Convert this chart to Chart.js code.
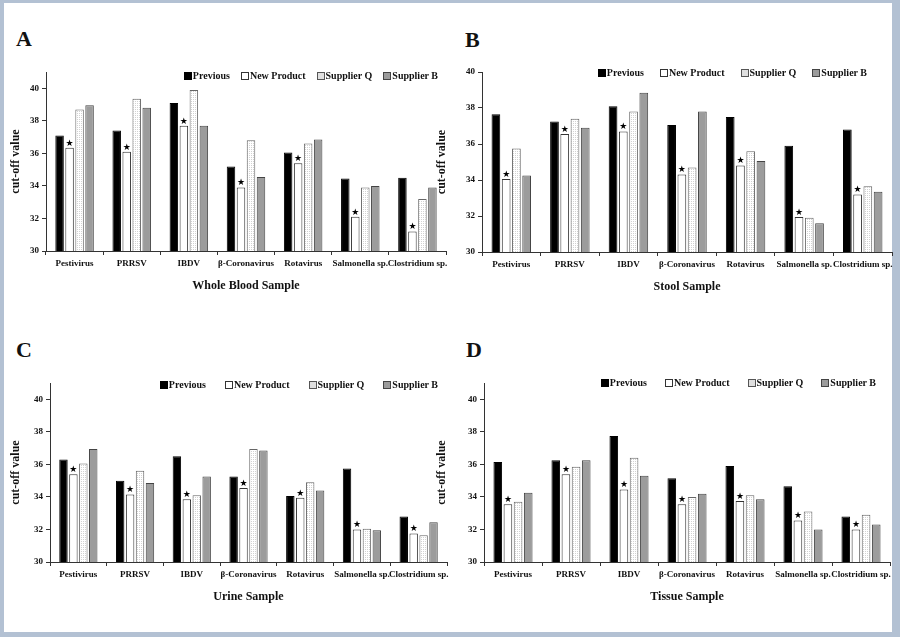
<!DOCTYPE html>
<html>
<head>
<meta charset="utf-8">
<script src="https://cdn.jsdelivr.net/npm/chart.js@4.4.0/dist/chart.umd.min.js"></script>
<style>
  html, body { margin: 0; padding: 0; }
  body {
    width: 900px; height: 637px; position: relative; overflow: hidden;
    background: #b3c1d3;
    font-family: 'Liberation Serif', 'Times New Roman', serif;
  }
  #sheet { position: absolute; left: 4px; top: 3px; width: 888px; height: 629px; background: #fff; }
  canvas { position: absolute; }
  .letter { position: absolute; font-weight: bold; font-size: 22px; line-height: 22px; color: #111; }
  .legend {
    position: absolute; display: flex; font-weight: bold; font-size: 10px;
    line-height: 12px; color: #111; white-space: nowrap;
  }
  .legend .item { display: flex; align-items: center; }
  .legend i { display: inline-block; width: 6px; height: 6px; margin-right: 1px; border: 1px solid #333; }
</style>
</head>
<body>
<div id="sheet"></div>
<script>
const categories = ['Pestivirus', 'PRRSV', 'IBDV', 'β-Coronavirus', 'Rotavirus', 'Salmonella sp.', 'Clostridium sp.'];
const seriesNames = ['Previous', 'New Product', 'Supplier Q', 'Supplier B'];
const yTicks = [30, 32, 34, 36, 38, 40];

// A - whole blood
const bloodPrevious = [37.1, 37.4, 39.1, 35.2, 36.05, 34.45, 34.5];
const bloodNew      = [36.35, 36.1, 37.7, 33.9, 35.4, 32.1, 31.2];
const bloodQ        = [38.7, 39.35, 39.9, 36.8, 36.6, 33.9, 33.2];
const bloodB        = [38.95, 38.8, 37.7, 34.55, 36.85, 34.0, 33.9];

// B - stool
const stoolPrevious = [37.65, 37.25, 38.1, 37.05, 37.5, 35.9, 36.8];
const stoolNew      = [34.05, 36.55, 36.7, 34.3, 34.8, 31.95, 33.2];
const stoolQ        = [35.75, 37.4, 37.8, 34.7, 35.6, 31.9, 33.65];
const stoolB        = [34.25, 36.9, 38.85, 37.8, 35.05, 31.6, 33.35];

// C - urine
const urinePrevious = [36.3, 35.0, 36.5, 35.25, 34.05, 35.75, 32.8];
const urineNew      = [35.4, 34.15, 33.85, 34.55, 33.95, 32.0, 31.75];
const urineQ        = [36.05, 35.6, 34.1, 36.95, 34.9, 32.05, 31.65];
const urineB        = [36.95, 34.85, 35.25, 36.85, 34.4, 31.95, 32.45];

// D - tissue
const tissuePrevious = [36.15, 36.25, 37.75, 35.15, 35.9, 34.65, 32.8];
const tissueNew      = [33.55, 35.4, 34.45, 33.55, 33.75, 32.55, 32.0];
const tissueQ        = [33.7, 35.85, 36.4, 34.0, 34.1, 33.1, 32.9];
const tissueB        = [34.25, 36.25, 35.3, 34.2, 33.85, 32.0, 32.3];

Chart.defaults.font.family = "'Liberation Serif', 'Times New Roman', serif";
Chart.defaults.font.weight = 'bold';
Chart.defaults.color = '#111';

// dotted fill for Supplier Q
const pc = document.createElement('canvas');
pc.width = 2; pc.height = 2;
const pg = pc.getContext('2d');
pg.fillStyle = '#fff'; pg.fillRect(0, 0, 2, 2);
pg.fillStyle = '#d2d2d2'; pg.fillRect(1, 1, 1, 1);
const dots = pg.createPattern(pc, 'repeat');

const fills = ['#000', '#fff', dots, '#9c9c9c'];
const borders = ['#000', '#333', '#666', '#444'];
const swatchCss = [
  'background:#000;border-color:#000',
  'background:#fff',
  'background:#fff radial-gradient(#bbb 0.6px, transparent 0.8px) 0 0/2px 2px;border-color:#555',
  'background:#9c9c9c;border-color:#444'
];

// star over every New Product bar
const starPlugin = {
  id: 'stars',
  afterDatasetsDraw(chart) {
    const ctx = chart.ctx;
    ctx.save();
    ctx.fillStyle = '#000';
    ctx.font = '9px "DejaVu Sans"';
    ctx.textAlign = 'center';
    ctx.textBaseline = 'bottom';
    chart.getDatasetMeta(1).data.forEach(bar => ctx.fillText('★', bar.x, bar.y));
    ctx.restore();
  }
};

const panels = [
  { letter: 'A', title: 'Whole Blood Sample', data: [bloodPrevious, bloodNew, bloodQ, bloodB], max: 41,
    box: [0, 60, 454, 242], pad: { left: 5, top: 12, right: 8, bottom: 5 }, yWidth: 41,
    letterPos: [16, 28], legend: { right: 462, top: 70, gap: 11 } },
  { letter: 'B', title: 'Stool Sample', data: [stoolPrevious, stoolNew, stoolQ, stoolB], max: 40,
    box: [430, 60, 470, 242], pad: { left: 1, top: 12, right: 8, bottom: 4 }, yWidth: 51,
    letterPos: [465, 29], legend: { right: 33, top: 67, gap: 16 } },
  { letter: 'C', title: 'Urine Sample', data: [urinePrevious, urineNew, urineQ, urineB], max: 41,
    box: [0, 370, 455, 252], pad: { left: 5, top: 13, right: 8, bottom: 14 }, yWidth: 45,
    letterPos: [16, 339], legend: { right: 462, top: 379, gap: 19 } },
  { letter: 'D', title: 'Tissue Sample', data: [tissuePrevious, tissueNew, tissueQ, tissueB], max: 41,
    box: [430, 370, 468, 252], pad: { left: 1, top: 13, right: 8, bottom: 14 }, yWidth: 53,
    letterPos: [466, 339], legend: { right: 24, top: 377, gap: 18 } }
];

panels.forEach(p => {
  const letter = document.createElement('div');
  letter.className = 'letter';
  letter.textContent = p.letter;
  letter.style.left = p.letterPos[0] + 'px';
  letter.style.top = p.letterPos[1] + 'px';
  document.body.appendChild(letter);

  const canvas = document.createElement('canvas');
  canvas.width = p.box[2];
  canvas.height = p.box[3];
  canvas.style.left = p.box[0] + 'px';
  canvas.style.top = p.box[1] + 'px';
  document.body.appendChild(canvas);

  const legend = document.createElement('div');
  legend.className = 'legend';
  legend.style.right = p.legend.right + 'px';
  legend.style.top = p.legend.top + 'px';
  legend.style.gap = p.legend.gap + 'px';
  legend.innerHTML = seriesNames.map((name, i) =>
    `<span class="item"><i style="${swatchCss[i]}"></i>${name}</span>`).join('');
  document.body.appendChild(legend);

  new Chart(canvas, {
    type: 'bar',
    data: {
      labels: categories,
      datasets: seriesNames.map((name, i) => ({
        label: name,
        data: p.data[i],
        backgroundColor: fills[i],
        borderColor: borders[i],
        borderWidth: 1,
        categoryPercentage: 0.7,
        barPercentage: 0.85
      }))
    },
    options: {
      responsive: false,
      animation: false,
      layout: { padding: p.pad },
      plugins: {
        legend: { display: false },
        tooltip: { enabled: false }
      },
      scales: {
        x: {
          grid: { drawOnChartArea: false, tickLength: 4, color: '#333' },
          border: { color: '#333' },
          ticks: { autoSkip: false, maxRotation: 0, minRotation: 0, padding: 3, font: { size: 9, weight: 'bold' } },
          title: { display: true, text: p.title, font: { size: 12, weight: 'bold' }, padding: { top: 4, bottom: 4 } },
          afterFit(s) { s.height = 46; }
        },
        y: {
          min: 30,
          max: p.max,
          grid: { drawOnChartArea: false, tickLength: 4, color: '#333' },
          border: { color: '#333' },
          ticks: { stepSize: 2, padding: 3, font: { size: 9, weight: 'bold' } },
          afterBuildTicks(s) { s.ticks = yTicks.map(v => ({ value: v })); },
          title: { display: true, text: 'cut-off value', font: { size: 12, weight: 'bold' }, padding: { top: 4, bottom: 4 } },
          afterFit(s) { s.width = p.yWidth; }
        }
      }
    },
    plugins: [starPlugin]
  });
});
</script>
</body>
</html>
